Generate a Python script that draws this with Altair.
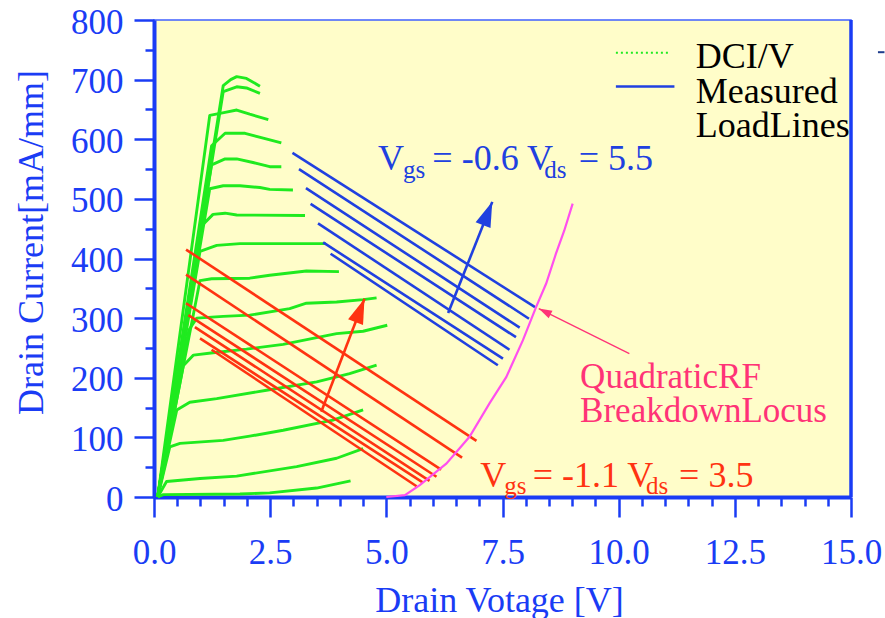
import math
import altair as alt
import pandas as pd

# ---------------- data ----------------
# DC I/V curves (drain voltage [V], drain current [mA/mm])
iv_x = [
    [0.08, 1.49, 1.65, 1.78, 1.99, 2.28],
    [0.08, 1.49, 1.78, 1.99, 2.28],
    [0.08, 1.20, 1.53, 1.78, 2.06, 2.46],
    [0.08, 1.24, 1.53, 1.96, 2.35, 2.74],
    [0.08, 1.24, 1.53, 1.78, 2.13, 2.49, 2.74],
    [0.08, 1.20, 1.49, 1.85, 2.28, 2.49, 2.99],
    [0.08, 0.99, 1.27, 1.53, 1.78, 3.25],
    [0.08, 0.99, 1.35, 1.85, 3.70],
    [0.08, 0.99, 1.24, 2.06, 2.49, 3.28, 3.98],
    [0.08, 0.75, 0.92, 1.49, 2.06, 2.92, 3.28, 3.93, 4.50, 4.79],
    [0.08, 0.63, 0.85, 1.27, 1.99, 2.78, 3.42, 3.93, 4.50, 5.02],
    [0.08, 0.49, 0.77, 1.35, 2.42, 3.50, 4.21, 4.79],
    [0.08, 0.34, 0.56, 1.49, 2.06, 2.78, 3.85, 4.50],
    [0.08, 0.27, 0.99, 1.78, 3.07, 3.93, 4.50],
    [0.08, 0.20, 1.85, 2.49, 3.50, 4.23],
]
iv_y = [
    [0, 690, 700, 705, 702, 689],
    [0, 680, 688, 686, 677],
    [0, 640, 645, 649, 642, 633],
    [0, 589, 610, 610, 602, 594],
    [0, 557, 567, 567, 561, 554, 554],
    [0, 517, 522, 522, 519, 516, 515],
    [0, 452, 474, 476, 473, 472],
    [0, 412, 422, 425, 425],
    [0, 363, 366, 367, 372, 379, 378],
    [0, 280, 300, 303, 305, 316, 325, 327, 331, 334],
    [0, 220, 238, 242, 248, 256, 266, 274, 278, 288],
    [0, 146, 159, 165, 179, 193, 207, 221],
    [0, 84, 90, 95, 102, 112, 129, 146],
    [0, 26, 31, 35, 51, 65, 81],
    [0, 4, 5, 7, 15, 27],
]

# Measured load lines, Vgs = -0.6 (blue)
blue_x0 = [2.98, 3.12, 3.27, 3.37, 3.53, 3.64, 3.80]
blue_y0 = [577, 550, 518, 491.5, 459, 427, 408]
blue_x1 = [8.20, 8.07, 7.87, 7.79, 7.65, 7.51, 7.40]
blue_y1 = [318.5, 299, 284, 268, 247, 232, 221]

# Measured load lines, Vgs = -1.1 (red)
red_x0 = [0.69, 0.69, 0.69, 0.74, 0.88, 0.99, 1.24]
red_y0 = [415, 373, 325, 305, 285, 266, 247]
red_x1 = [6.94, 6.63, 6.18, 6.08, 5.93, 5.79, 5.65]
red_y1 = [94, 66, 46, 34, 27, 24, 18]

# Quadratic RF breakdown locus
locus_x = [5.0, 5.4, 5.72, 6.29, 6.79, 7.22, 7.58, 7.94, 8.22, 8.44, 8.65, 8.83, 9.01]
locus_y = [0, 3, 20, 56, 101, 157, 201, 263, 318, 358, 408, 447, 492]

# arrows: tail -> tip
arrow_names = ["blue", "red", "pink"]
arrow_x0 = [6.33, 3.60, 10.23]
arrow_y0 = [308.5, 143, 240.5]
arrow_x1 = [7.28, 4.53, 8.28]
arrow_y1 = [495, 332.5, 316]

# axis ticks
x_ticks = [i * 0.5 for i in range(31)]
y_ticks = list(range(0, 801, 50))

# ---------------- styles ----------------
AX = "#1A3CF5"
GREEN = "#1FEA1F"
BLUE = "#2040E0"
RED = "#FF3311"
MAGENTA = "#FF4FEF"
PINK = "#FF3377"
FONT = "Liberation Serif"
W, H = 697, 477

xs = alt.Scale(domain=[0, 15], nice=False, zero=False)
ys = alt.Scale(domain=[0, 800], nice=False, zero=False)

# ---------------- tables ----------------
iv_rows = []
for c, (xx, yy) in enumerate(zip(iv_x, iv_y)):
    for k, (a, b) in enumerate(zip(xx, yy)):
        iv_rows.append({"curve": c, "ord": k, "v": a, "i": b})
iv_df = pd.DataFrame(iv_rows)

def seg_df(x0, y0, x1, y1):
    rows = []
    for n in range(len(x0)):
        rows.append({"line": n, "ord": 0, "v": x0[n], "i": y0[n]})
        rows.append({"line": n, "ord": 1, "v": x1[n], "i": y1[n]})
    return pd.DataFrame(rows)

blue_df = seg_df(blue_x0, blue_y0, blue_x1, blue_y1)
red_df = seg_df(red_x0, red_y0, red_x1, red_y1)
locus_df = pd.DataFrame({"v": locus_x, "i": locus_y, "ord": range(len(locus_x))})

kx, ky = W / 15.0, H / 800.0
arrow_colors = {"blue": BLUE, "red": RED, "pink": PINK}
shaft_rows, head_rows = [], []
for n, name in enumerate(arrow_names):
    shaft_rows.append({"a": name, "ord": 0, "v": arrow_x0[n], "i": arrow_y0[n], "col": arrow_colors[name]})
    shaft_rows.append({"a": name, "ord": 1, "v": arrow_x1[n], "i": arrow_y1[n], "col": arrow_colors[name]})
    ang = math.degrees(math.atan2((arrow_x1[n] - arrow_x0[n]) * kx, (arrow_y1[n] - arrow_y0[n]) * ky)) % 360
    head_rows.append({"a": name, "v": arrow_x1[n], "i": arrow_y1[n], "ang": ang,
                      "col": arrow_colors[name], "sz": 2500 if name != "pink" else 700})
shaft_df = pd.DataFrame(shaft_rows)
head_df = pd.DataFrame(head_rows)

ann_df = pd.DataFrame([
    {"v": 4.82, "i": 548.5, "t": "V", "fs": 36, "col": BLUE},
    {"v": 5.36, "i": 535.6, "t": "gs", "fs": 25, "col": BLUE},
    {"v": 5.99, "i": 548.5, "t": "= -0.6 V", "fs": 36, "col": BLUE},
    {"v": 8.40, "i": 535.6, "t": "ds", "fs": 25, "col": BLUE},
    {"v": 9.14, "i": 548.5, "t": "= 5.5", "fs": 36, "col": BLUE},
    {"v": 7.02, "i": 17.2, "t": "V", "fs": 36, "col": RED},
    {"v": 7.54, "i": 5.0, "t": "gs", "fs": 25, "col": RED},
    {"v": 8.15, "i": 17.2, "t": "= -1.1 V", "fs": 36, "col": RED},
    {"v": 10.59, "i": 5.0, "t": "ds", "fs": 25, "col": RED},
    {"v": 11.30, "i": 17.2, "t": "= 3.5", "fs": 36, "col": RED},
    {"v": 9.17, "i": 183.6, "t": "QuadraticRF", "fs": 35, "col": PINK},
    {"v": 9.17, "i": 126.0, "t": "BreakdownLocus", "fs": 35, "col": PINK},
    {"v": 11.66, "i": 720.2, "t": "DCI/V", "fs": 36, "col": "#000000"},
    {"v": 11.66, "i": 661.6, "t": "Measured", "fs": 36, "col": "#000000"},
    {"v": 11.66, "i": 603.0, "t": "LoadLines", "fs": 36, "col": "#000000"},
])

leg_green = pd.DataFrame({"v": [9.94, 11.09], "i": [745, 745]})
leg_blue = pd.DataFrame({"v": [9.94, 11.20], "i": [688.4, 688.4]})
side_dash = pd.DataFrame({"v": [15.58, 15.72], "i": [746, 746]})
right_edge = pd.DataFrame({"v": [15, 15], "i": [0, 800]})

# ---------------- shared encodings (identical in every layer) ----------------
x_axis = alt.Axis(
    values=x_ticks,
    labelExpr="datum.value % 2.5 === 0 ? format(datum.value, '.1f') : ''",
    tickSize={"condition": {"test": "datum.value % 2.5 === 0", "value": 20}, "value": 9},
    labelFlush=False, labelOverlap=False, labelBaseline="alphabetic", labelPadding=46,
    title="Drain Votage [V]", titleBaseline="alphabetic", titleY=114, titleX=345,
)
y_axis = alt.Axis(
    values=y_ticks,
    labelExpr="datum.value % 100 === 0 ? format(datum.value, 'd') : ''",
    tickSize={"condition": {"test": "datum.value % 100 === 0", "value": 20}, "value": 9},
    labelOverlap=False, labelPadding=11, labelOffset=2, labelFlush=False,
    title="Drain Current[mA/mm]", titleBaseline="alphabetic", titleX=-112, titleY=222,
    titleAngle=270,
)
X = alt.X("v:Q", scale=xs, axis=x_axis)
Y = alt.Y("i:Q", scale=ys, axis=y_axis)

iv = alt.Chart(iv_df).mark_line(color=GREEN, strokeWidth=2.9, strokeJoin="round").encode(
    x=X, y=Y, detail="curve:N", order="ord:Q",
)

def lines(df, color, width):
    return alt.Chart(df).mark_line(color=color, strokeWidth=width).encode(
        x=X, y=Y, detail="line:N", order="ord:Q",
    )

red = lines(red_df, RED, 2.6)
blue = lines(blue_df, BLUE, 2.6)
locus = alt.Chart(locus_df).mark_line(color=MAGENTA, strokeWidth=2.2).encode(
    x=X, y=Y, order="ord:Q")

shafts = alt.Chart(shaft_df).mark_line().encode(
    x=X, y=Y, detail="a:N", order="ord:Q",
    color=alt.Color("col:N", scale=None),
    strokeWidth=alt.condition("datum.a === 'pink'", alt.value(1.3), alt.value(2.6)),
)
heads = alt.Chart(head_df).mark_point(
    shape="M0,0L0.32,1L-0.32,1Z", filled=True, opacity=1, strokeWidth=0
).encode(
    x=X, y=Y,
    angle=alt.Angle("ang:Q", scale=None),
    size=alt.Size("sz:Q", scale=None),
    color=alt.Color("col:N", scale=None),
)

texts = alt.Chart(ann_df).mark_text(align="left", baseline="alphabetic", font=FONT).encode(
    x=X, y=Y, text="t:N",
    size=alt.Size("fs:Q", scale=None),
    color=alt.Color("col:N", scale=None),
)

lg1 = alt.Chart(leg_green).mark_line(color=GREEN, strokeWidth=2, strokeDash=[2, 3]).encode(x=X, y=Y)
lg2 = alt.Chart(leg_blue).mark_line(color=BLUE, strokeWidth=2.5).encode(x=X, y=Y)
dash = alt.Chart(side_dash).mark_line(color="#1E3C8C", strokeWidth=2).encode(x=X, y=Y)
edge = alt.Chart(right_edge).mark_line(color=AX, strokeWidth=3.5).encode(x=X, y=Y)

chart = alt.layer(iv, red, blue, locus, shafts, heads, texts, lg1, lg2, dash, edge).properties(
    width=W, height=H,
    autosize=alt.AutoSizeParams(type="none"),
    padding={"left": 154, "top": 20, "right": 34, "bottom": 121},
    background="#FFFFFF",
).configure_view(
    fill="#FFFDC9", stroke="#4060FF", strokeWidth=1.5,
).configure_axis(
    domainColor=AX, domainWidth=4, tickColor=AX, tickWidth=2.5,
    labelColor=AX, labelFont=FONT, labelFontSize=35,
    titleColor=AX, titleFont=FONT, titleFontSize=36, titleFontWeight="normal",
    grid=False,
)

chart.save("out.html", embed_options={"renderer": "svg", "actions": False})
